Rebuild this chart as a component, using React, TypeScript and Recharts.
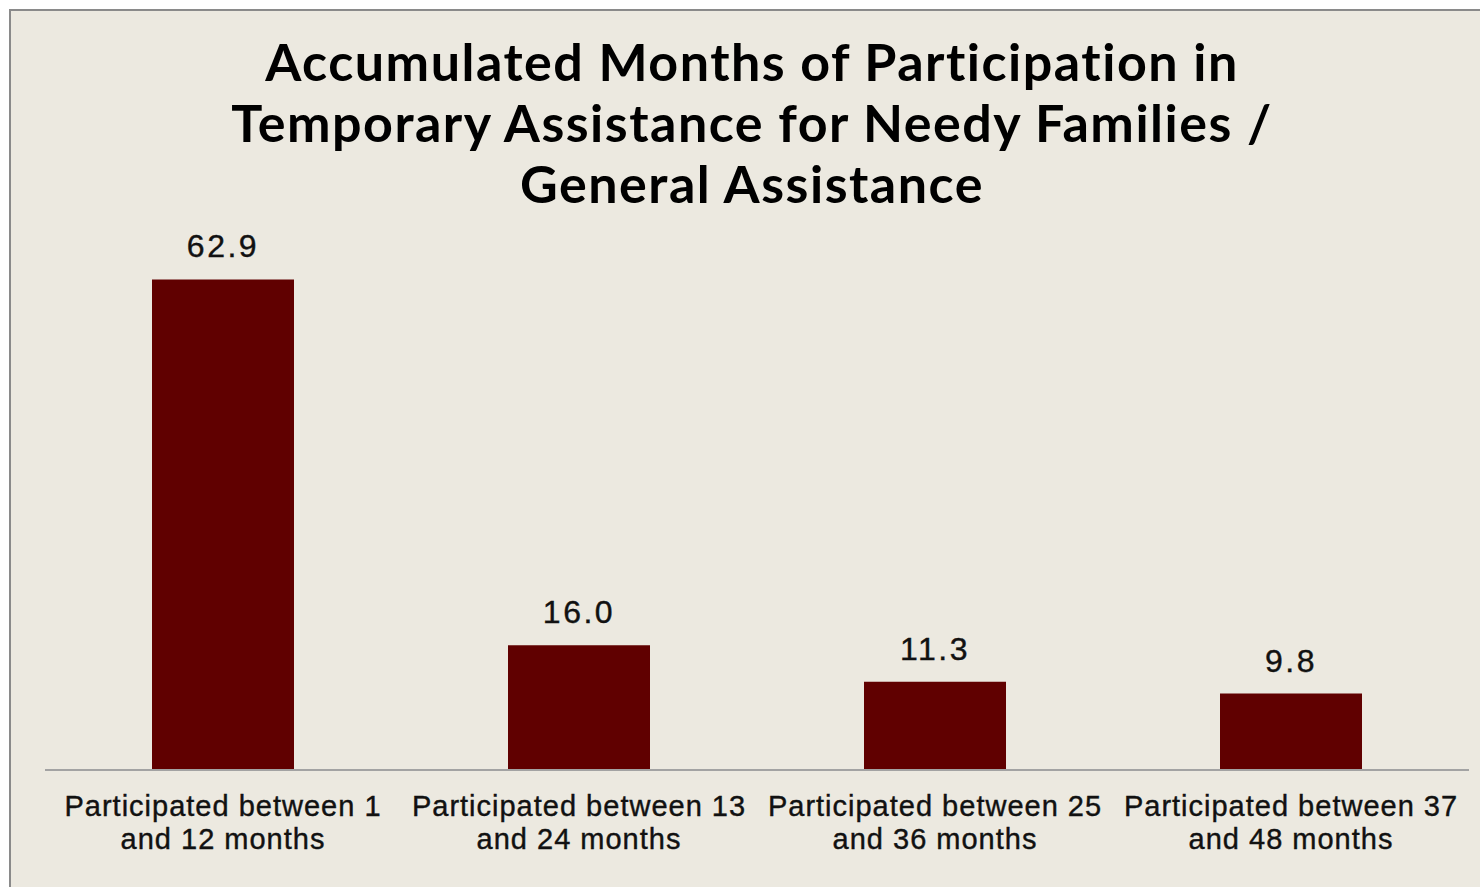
import { BarChart, Bar, XAxis, YAxis, LabelList } from "recharts"

const categories = [
  ["Participated between 1", "and 12 months"],
  ["Participated between 13", "and 24 months"],
  ["Participated between 25", "and 36 months"],
  ["Participated between 37", "and 48 months"],
]
const values = [62.9, 16.0, 11.3, 9.8]
const titleLines = [
  "Accumulated Months of Participation in",
  "Temporary Assistance for Needy Families /",
  "General Assistance",
]

const data = categories.map((c, i) => ({ name: c.join("\n"), value: values[i] }))

const BG = "#ECE9E0"
const BAR = "#600000"

const CategoryTick = ({ x, y, payload }: any) => {
  const lines = String(payload.value).split("\n")
  return (
    <text
      x={x}
      y={y}
      textAnchor="middle"
      fontFamily="'Liberation Sans', Arial, sans-serif"
      fontSize={29}
      fill="#111"
      stroke="#111"
      strokeWidth={0.4}
      letterSpacing={1}
    >
      {lines.map((l, i) => (
        <tspan key={i} x={x} dy={i === 0 ? 38 : 33}>
          {l}
        </tspan>
      ))}
    </text>
  )
}

export default function App() {
  return (
    <div style={{ position: "fixed", left: 0, top: 0, width: 1480, height: 887, background: "#fff", overflow: "hidden" }}>
      <div
        style={{
          position: "absolute",
          left: 9,
          top: 9,
          right: 0,
          bottom: 0,
          background: BG,
          borderTop: "2px solid #8a8a8a",
          borderLeft: "2px solid #8a8a8a",
        }}
      />
      <div
        style={{
          position: "absolute",
          left: 0,
          top: 31,
          width: 1504,
          textAlign: "center",
          fontFamily: "Lato, 'DejaVu Sans', sans-serif",
          fontWeight: 700,
          fontSize: 52,
          lineHeight: "61px",
          color: "#000",
          letterSpacing: 1.5,
        }}
      >
        {titleLines.map((t, i) => (
          <div key={i}>{t}</div>
        ))}
      </div>
      <div style={{ position: "absolute", left: 0, top: 0 }}>
        <BarChart
          width={1480}
          height={887}
          data={data}
          margin={{ top: 224, right: 11, bottom: 57, left: 45 }}
          barCategoryGap="30%"
        >
          <YAxis hide domain={[0, 70]} />
          <XAxis
            dataKey="name"
            height={60}
            tickLine={false}
            axisLine={{ stroke: "#a3a3a3", strokeWidth: 2 }}
            tick={<CategoryTick />}
            interval={0}
          />
          <Bar dataKey="value" fill={BAR} barSize={142} isAnimationActive={false}>
            <LabelList
              dataKey="value"
              position="top"
              offset={22}
              formatter={(v: any) => Number(v).toFixed(1)}
              style={{
                fontFamily: "'Liberation Sans', Arial, sans-serif",
                fontSize: 32,
                fill: "#111",
                stroke: "#111",
                strokeWidth: 0.4,
                letterSpacing: 2.5,
              }}
            />
          </Bar>
        </BarChart>
      </div>
    </div>
  )
}
